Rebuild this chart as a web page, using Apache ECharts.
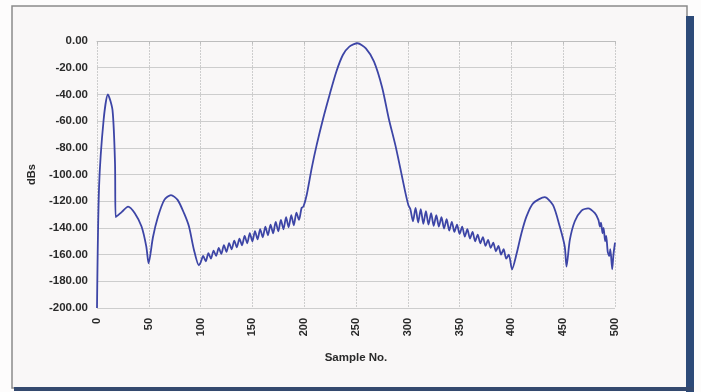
<!DOCTYPE html>
<html>
<head>
<meta charset="utf-8">
<script src="https://cdn.jsdelivr.net/npm/echarts@6/dist/echarts.min.js"></script>
<style>
  html, body { margin: 0; padding: 0; background: #fdfcfc; }
  #chart { width: 701px; height: 392px; }
</style>
</head>
<body>
<div id="chart"></div>
<script>
// sample number (x) and level in dB (y)
const sampleNo = [
  0, 2, 6.4, 10.5, 15, 17.4, 18, 24, 30, 36.5, 43, 47.6, 49.8, 54, 58.7, 65, 71.4, 77.8, 84, 88.8, 93.6, 98.3,
  100, 102.5, 105, 107.5, 110, 112.5, 115, 117.5, 120, 122.5, 125, 127.5, 130, 132.5, 135, 137.5, 140, 142.5,
  145, 147.5, 150, 152.5, 155, 157.5, 160, 162.5, 165, 167.5, 170, 172.5, 175, 177.5, 180, 182.5, 185, 187.5,
  190, 192.5, 195, 197.5,
  199.3, 202.5, 207.3, 212, 218.3, 224.6, 231, 237.3, 243.6, 251.5, 259.5, 267.4, 275.3, 281.6, 288, 292.7, 297.5, 300.6,
  302.5, 305, 307.5, 310, 312.5, 315, 317.5, 320, 322.5, 325, 327.5, 330, 332.5, 335, 337.5, 340, 342.5, 345,
  347.5, 350, 352.5, 355, 357.5, 360, 362.5, 365, 367.5, 370, 372.5, 375, 377.5, 380, 382.5, 385, 387.5, 390,
  392.5, 395, 397.5,
  400.6, 404.8, 409.7, 414.5, 420.9, 432.2, 440.2, 446.7, 451.5, 453.2, 456.4, 461.2, 467.7, 474, 480.6,
  484, 485.5, 486.5, 488, 489, 490.5, 491.5, 493, 494.5, 495.5, 497.3, 498.5, 500
];
const levelDb = [
  -200, -109, -59, -40, -52, -92, -132, -128, -124, -129, -139, -154, -166.5, -147, -132, -119, -115.4, -119, -129, -139, -156.5, -168,
  -166, -161, -165, -159, -163, -157, -161, -155, -159.5, -153, -158, -151.5, -156, -149.5, -154.5, -148, -153, -146,
  -151.5, -144, -150, -142.5, -148.5, -141, -147, -139, -145.5, -137.5, -144, -135.5, -142.5, -134, -141, -132, -139.5, -130.5,
  -138, -128.5, -134, -125,
  -124, -115, -95, -78, -58, -40, -23, -10.5, -4.2, -1.7, -5.5, -15.5, -35, -58, -78, -95, -113, -123,
  -126, -135, -125, -136, -126, -137, -127.5, -137.5, -129, -138.5, -130.5, -139, -132, -140.5, -133.5, -142, -135.5, -143,
  -137.5, -144.5, -139, -146.5, -141, -148, -143, -150, -145, -151.5, -147, -153.5, -149, -155, -151, -157.5, -153.5, -160,
  -156, -163, -160,
  -171, -160, -144, -131.6, -121.6, -117, -123, -139, -154, -169, -149, -135, -127, -125.3, -129,
  -134, -139, -136, -144, -140, -150, -146, -158, -161, -156, -171, -160, -151
];
const yTicks = [0, -20, -40, -60, -80, -100, -120, -140, -160, -180, -200];

const chart = echarts.init(document.getElementById('chart'));
const gridColor = '#cdcdcd';
const labelColor = '#2a2a2a';
const font = 'Liberation Sans';

chart.setOption({
  animation: false,
  backgroundColor: '#fdfcfc',
  graphic: [
    { type: 'rect', z: -10, shape: { x: 12, y: 6, width: 675, height: 382 },
      style: { fill: '#f9f7f7', stroke: '#8a8a8a', lineWidth: 1.5 } },
    { type: 'rect', z: -9, shape: { x: 686, y: 16, width: 8, height: 376 },
      style: { fill: '#2d4a78' } },
    { type: 'rect', z: -9, shape: { x: 14, y: 387, width: 680, height: 4 },
      style: { fill: '#34496e' } }
  ],
  grid: { left: 97, right: 86, top: 41, bottom: 84 },
  xAxis: {
    type: 'value',
    min: 0,
    max: 500,
    interval: 50,
    name: 'Sample No.',
    nameLocation: 'middle',
    nameGap: 44,
    nameTextStyle: { fontFamily: font, fontSize: 11.5, fontWeight: 'bold', color: labelColor },
    axisLine: { lineStyle: { color: '#bdbdbd' } },
    axisTick: { show: true, length: 3, lineStyle: { color: '#bdbdbd' } },
    axisLabel: { rotate: 90, fontFamily: font, fontSize: 11, fontWeight: 'bold', color: labelColor, margin: 10 },
    splitLine: { lineStyle: { color: gridColor, type: [2, 1] } }
  },
  yAxis: {
    type: 'value',
    min: yTicks[yTicks.length - 1],
    max: yTicks[0],
    interval: 20,
    name: 'dBs',
    nameLocation: 'middle',
    nameRotate: 90,
    nameGap: 60,
    nameTextStyle: { fontFamily: font, fontSize: 11, fontWeight: 'bold', color: labelColor },
    axisLine: { show: false },
    axisTick: { show: false },
    axisLabel: {
      fontFamily: font, fontSize: 11.5, fontWeight: 'bold', color: labelColor, margin: 9,
      formatter: v => v.toFixed(2)
    },
    splitLine: { lineStyle: { color: gridColor } }
  },
  series: [{
    type: 'line',
    showSymbol: false,
    smooth: 0.25,
    data: sampleNo.map((s, i) => [s, levelDb[i]]),
    lineStyle: { color: '#3d45a6', width: 1.8 }
  }]
});
</script>
</body>
</html>
